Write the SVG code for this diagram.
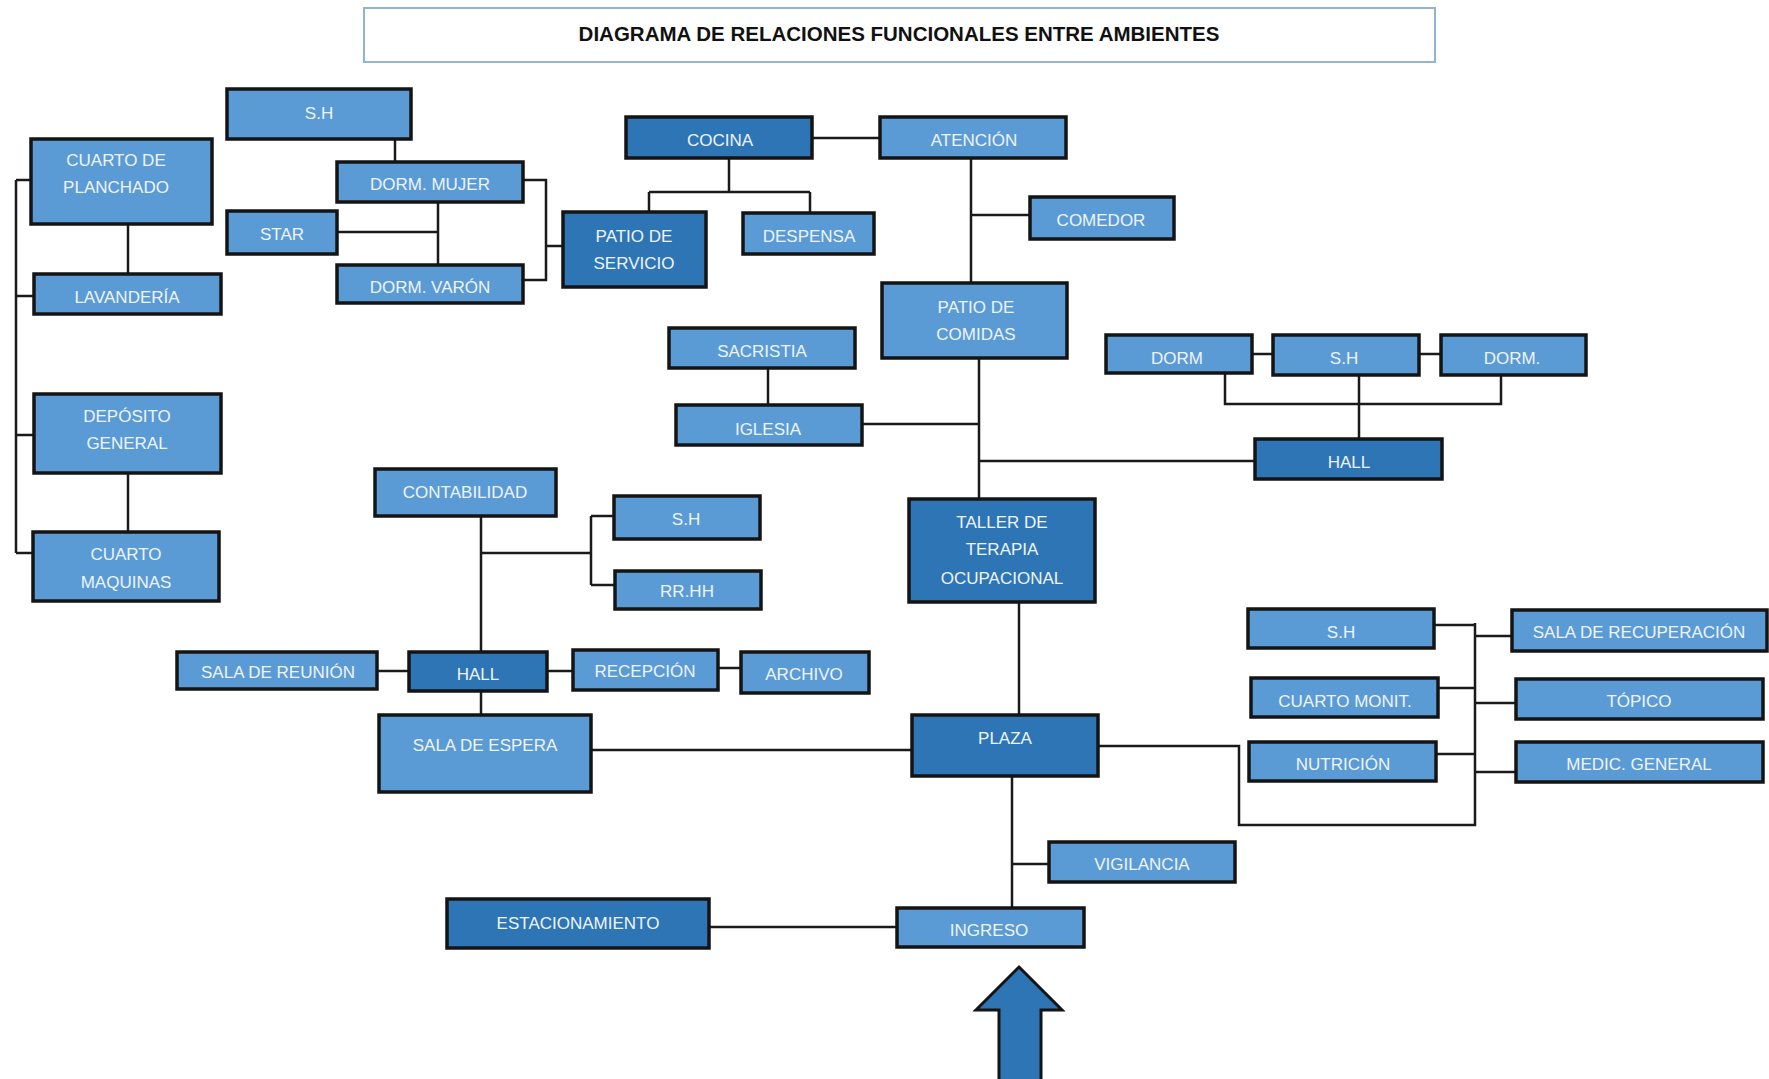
<svg xmlns="http://www.w3.org/2000/svg" width="1769" height="1079" viewBox="0 0 1769 1079">
<style>
.l{fill:#5b9bd5;stroke:#141414;stroke-width:3.5}
.d{fill:#2e75b6;stroke:#141414;stroke-width:3.5}
.t{font-family:"Liberation Sans",Arial,sans-serif;font-size:17px;fill:#eef4fb;text-anchor:middle}
.c{fill:none;stroke:#1a1a1a;stroke-width:2.5}
</style>
<rect width="1769" height="1079" fill="#ffffff"/>
<g id="title">
<rect x="364" y="8" width="1071" height="54" fill="#ffffff" stroke="#8fb4d6" stroke-width="2"/>
<text x="899" y="41" font-family="Liberation Sans,Arial,sans-serif" font-size="20.5" font-weight="bold" fill="#111" text-anchor="middle">DIAGRAMA DE RELACIONES FUNCIONALES ENTRE AMBIENTES</text>
</g>
<g id="connectors">
<path class="c" d="M395,139V162"/>
<path class="c" d="M128,224V274"/>
<path class="c" d="M16,180V553M16,180H31M16,296H34M16,435H34M16,553H33"/>
<path class="c" d="M128,473V532"/>
<path class="c" d="M438,202V265M337,232H438"/>
<path class="c" d="M523,180H546V280H523M546,246H563"/>
<path class="c" d="M729,158V192M649,192H810M649,192V212M810,192V213"/>
<path class="c" d="M812,138H880"/>
<path class="c" d="M971,158V283M971,215H1030"/>
<path class="c" d="M979,358V499M862,424H979M979,461H1255"/>
<path class="c" d="M768,368V405"/>
<path class="c" d="M1252,354H1273M1419,354H1441"/>
<path class="c" d="M1225,373V404H1501V375M1359,375V439"/>
<path class="c" d="M1019,602V715"/>
<path class="c" d="M481,516V652M481,553H591M591,516V585M591,516H614M591,585H615"/>
<path class="c" d="M377,671H409M547,671H573M718,668H741"/>
<path class="c" d="M481,691V715"/>
<path class="c" d="M591,750H912"/>
<path class="c" d="M1098,746H1239V825H1475V623M1434,625H1475M1438,688H1475M1436,754H1475M1475,636H1512M1475,703H1516M1475,772H1516"/>
<path class="c" d="M1012,776V908M1012,864H1049"/>
<path class="c" d="M709,927H897" stroke="#555"/>
</g>
<g id="sh1"><rect class="l" x="227" y="89" width="184" height="50"/><text class="t" x="319" y="119">S.H</text></g>
<g id="planchado"><rect class="l" x="31" y="139" width="181" height="85"/><text class="t" x="116" y="166">CUARTO DE</text><text class="t" x="116" y="193">PLANCHADO</text></g>
<g id="dorm-mujer"><rect class="l" x="337" y="162" width="186" height="40"/><text class="t" x="430" y="190">DORM. MUJER</text></g>
<g id="star"><rect class="l" x="227" y="211" width="110" height="43"/><text class="t" x="282" y="240">STAR</text></g>
<g id="dorm-varon"><rect class="l" x="337" y="265" width="186" height="38"/><text class="t" x="430" y="293">DORM. VARÓN</text></g>
<g id="lavanderia"><rect class="l" x="34" y="274" width="187" height="40"/><text class="t" x="127" y="303">LAVANDERÍA</text></g>
<g id="patio-servicio"><rect class="d" x="563" y="212" width="143" height="75"/><text class="t" x="634" y="242">PATIO DE</text><text class="t" x="634" y="269">SERVICIO</text></g>
<g id="cocina"><rect class="d" x="626" y="117" width="186" height="41"/><text class="t" x="720" y="146">COCINA</text></g>
<g id="atencion"><rect class="l" x="880" y="117" width="186" height="41"/><text class="t" x="974" y="146">ATENCIÓN</text></g>
<g id="despensa"><rect class="l" x="743" y="213" width="131" height="41"/><text class="t" x="809" y="242">DESPENSA</text></g>
<g id="comedor"><rect class="l" x="1030" y="197" width="144" height="42"/><text class="t" x="1101" y="226">COMEDOR</text></g>
<g id="patio-comidas"><rect class="l" x="882" y="283" width="185" height="75"/><text class="t" x="976" y="313">PATIO DE</text><text class="t" x="976" y="340">COMIDAS</text></g>
<g id="sacristia"><rect class="l" x="669" y="328" width="186" height="40"/><text class="t" x="762" y="357">SACRISTIA</text></g>
<g id="iglesia"><rect class="l" x="676" y="405" width="186" height="40"/><text class="t" x="768" y="435">IGLESIA</text></g>
<g id="dorm1"><rect class="l" x="1106" y="335" width="146" height="38"/><text class="t" x="1177" y="364">DORM</text></g>
<g id="sh2"><rect class="l" x="1273" y="335" width="146" height="40"/><text class="t" x="1344" y="364">S.H</text></g>
<g id="dorm2"><rect class="l" x="1441" y="335" width="145" height="40"/><text class="t" x="1512" y="364">DORM.</text></g>
<g id="hall1"><rect class="d" x="1255" y="439" width="187" height="40"/><text class="t" x="1349" y="468">HALL</text></g>
<g id="deposito"><rect class="l" x="34" y="394" width="187" height="79"/><text class="t" x="127" y="422">DEPÓSITO</text><text class="t" x="127" y="449">GENERAL</text></g>
<g id="maquinas"><rect class="l" x="33" y="532" width="186" height="69"/><text class="t" x="126" y="560">CUARTO</text><text class="t" x="126" y="588">MAQUINAS</text></g>
<g id="contabilidad"><rect class="l" x="375" y="469" width="181" height="47"/><text class="t" x="465" y="498">CONTABILIDAD</text></g>
<g id="sh3"><rect class="l" x="614" y="496" width="146" height="43"/><text class="t" x="686" y="525">S.H</text></g>
<g id="rrhh"><rect class="l" x="615" y="571" width="146" height="38"/><text class="t" x="687" y="597">RR.HH</text></g>
<g id="taller"><rect class="d" x="909" y="499" width="186" height="103"/><text class="t" x="1002" y="528">TALLER DE</text><text class="t" x="1002" y="555">TERAPIA</text><text class="t" x="1002" y="584">OCUPACIONAL</text></g>
<g id="sala-reunion"><rect class="l" x="177" y="652" width="200" height="37"/><text class="t" x="278" y="678">SALA DE REUNIÓN</text></g>
<g id="hall2"><rect class="d" x="409" y="652" width="138" height="39"/><text class="t" x="478" y="680">HALL</text></g>
<g id="recepcion"><rect class="l" x="573" y="650" width="145" height="40"/><text class="t" x="645" y="677">RECEPCIÓN</text></g>
<g id="archivo"><rect class="l" x="741" y="652" width="128" height="41"/><text class="t" x="804" y="680">ARCHIVO</text></g>
<g id="sala-espera"><rect class="l" x="379" y="715" width="212" height="77"/><text class="t" x="485" y="751">SALA DE ESPERA</text></g>
<g id="plaza"><rect class="d" x="912" y="715" width="186" height="61"/><text class="t" x="1005" y="744">PLAZA</text></g>
<g id="sh4"><rect class="l" x="1248" y="609" width="186" height="39"/><text class="t" x="1341" y="638">S.H</text></g>
<g id="cuarto-monit"><rect class="l" x="1251" y="678" width="187" height="39"/><text class="t" x="1345" y="707">CUARTO MONIT.</text></g>
<g id="nutricion"><rect class="l" x="1249" y="742" width="187" height="39"/><text class="t" x="1343" y="770">NUTRICIÓN</text></g>
<g id="sala-recuperacion"><rect class="l" x="1512" y="610" width="255" height="41"/><text class="t" x="1639" y="638">SALA DE RECUPERACIÓN</text></g>
<g id="topico"><rect class="l" x="1516" y="679" width="247" height="40"/><text class="t" x="1639" y="707">TÓPICO</text></g>
<g id="medic-general"><rect class="l" x="1516" y="742" width="247" height="40"/><text class="t" x="1639" y="770">MEDIC. GENERAL</text></g>
<g id="vigilancia"><rect class="l" x="1049" y="842" width="186" height="40"/><text class="t" x="1142" y="870">VIGILANCIA</text></g>
<g id="estacionamiento"><rect class="d" x="447" y="899" width="262" height="49"/><text class="t" x="578" y="929">ESTACIONAMIENTO</text></g>
<g id="ingreso"><rect class="l" x="897" y="908" width="187" height="39"/><text class="t" x="989" y="936">INGRESO</text></g>
<g id="entrance-arrow"><polygon points="1019,967 1062,1010 1041,1010 1041,1084 999,1084 999,1010 976,1010" fill="#2e75b6" stroke="#141414" stroke-width="3"/></g>
</svg>
